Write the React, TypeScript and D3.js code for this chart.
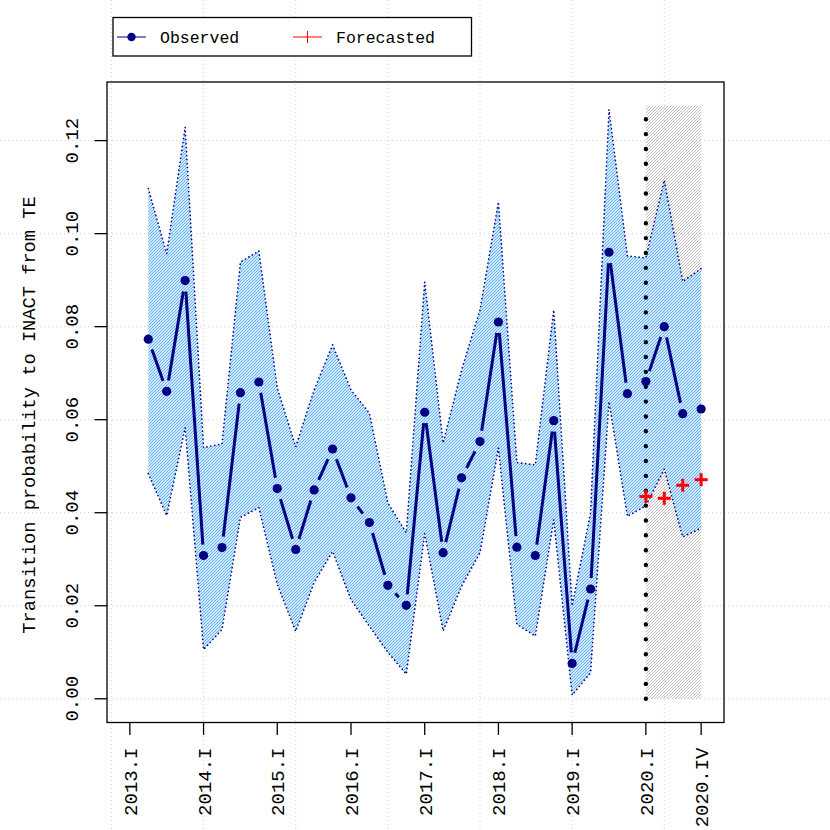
import React from "react";
import * as d3 from "d3";

const observedQuarters = [
  "2013.II", "2013.III", "2013.IV",
  "2014.I", "2014.II", "2014.III", "2014.IV",
  "2015.I", "2015.II", "2015.III", "2015.IV",
  "2016.I", "2016.II", "2016.III", "2016.IV",
  "2017.I", "2017.II", "2017.III", "2017.IV",
  "2018.I", "2018.II", "2018.III", "2018.IV",
  "2019.I", "2019.II", "2019.III", "2019.IV",
  "2020.I", "2020.II", "2020.III", "2020.IV",
];
const observedValues = [
  0.0773, 0.0661, 0.0899,
  0.0308, 0.0325, 0.0658, 0.0681,
  0.0452, 0.0321, 0.0449, 0.0537,
  0.0432, 0.0379, 0.0244, 0.0201,
  0.0616, 0.0314, 0.0475, 0.0553,
  0.081, 0.0326, 0.0308, 0.0598,
  0.0076, 0.0236, 0.096, 0.0656,
  0.0682, 0.08, 0.0613, 0.0623,
];
const upperValues = [
  0.1097, 0.0957, 0.1229,
  0.054, 0.0548, 0.0939, 0.0963,
  0.0668, 0.0542, 0.0664, 0.0761,
  0.0664, 0.0614, 0.0421, 0.0357,
  0.0896, 0.055, 0.0707, 0.0836,
  0.1068, 0.0508, 0.0503, 0.0836,
  0.02, 0.04, 0.1267, 0.0952,
  0.0948, 0.1115, 0.0897, 0.0925,
];
const lowerValues = [
  0.0484, 0.0394, 0.0583,
  0.0106, 0.0149, 0.039, 0.0411,
  0.0246, 0.0145, 0.025, 0.0317,
  0.0213, 0.0156, 0.01, 0.0053,
  0.0355, 0.0146, 0.0242, 0.0314,
  0.0539, 0.016, 0.0135, 0.0385,
  0.0008, 0.0056, 0.0639, 0.0392,
  0.0415, 0.0494, 0.0348, 0.0367,
];
const forecastQuarters = ["2020.I", "2020.II", "2020.III", "2020.IV"];
const forecastValues = [0.0435, 0.0431, 0.0459, 0.0471];

const xTickLabels = [
  "2013.I", "2014.I", "2015.I", "2016.I", "2017.I", "2018.I", "2019.I", "2020.I", "2020.IV",
];
const yTicks = [0, 0.02, 0.04, 0.06, 0.08, 0.1, 0.12];
const xGridIdx = [0, 5, 10, 15, 20, 25, 30];
const forecastTop = 0.1275;
const yLabel = "Transition probability to INACT from TE";
const legendLabels = ["Observed", "Forecasted"];

const ROMAN: Record<string, number> = { I: 0, II: 1, III: 2, IV: 3 };
function qIndex(label: string): number {
  const [y, q] = label.split(".");
  return (+y - 2013) * 4 + ROMAN[q] + 1;
}

const W = 830;
const H = 830;
const FONT = "'Liberation Mono', 'Courier New', monospace";

export default function App() {
  const x = d3.scaleLinear().domain([-0.24, 33.24]).range([107, 724]);
  const y = d3.scaleLinear().domain([-0.0051, 0.1326]).range([722.5, 82]);
  const left = 107, right = 724, top = 82, bottom = 722.5;

  const obs = observedQuarters.map((q, i) => ({
    x: x(qIndex(q)),
    y: y(observedValues[i]),
    lo: y(lowerValues[i]),
    hi: y(upperValues[i]),
  }));

  const band = d3
    .area<{ x: number; lo: number; hi: number }>()
    .x((d) => d.x)
    .y0((d) => d.lo)
    .y1((d) => d.hi);
  const upperLine = d3.line<{ x: number; hi: number }>().x((d) => d.x).y((d) => d.hi);
  const lowerLine = d3.line<{ x: number; lo: number }>().x((d) => d.x).y((d) => d.lo);

  // type="b" segments with gaps
  const gap = 11;
  const segs: { x1: number; y1: number; x2: number; y2: number }[] = [];
  for (let i = 0; i < obs.length - 1; i++) {
    const a = obs[i], b = obs[i + 1];
    const dx = b.x - a.x, dy = b.y - a.y;
    const len = Math.hypot(dx, dy);
    if (len > 2 * gap) {
      const ux = dx / len, uy = dy / len;
      segs.push({ x1: a.x + ux * gap, y1: a.y + uy * gap, x2: b.x - ux * gap, y2: b.y - uy * gap });
    }
  }

  const fx0 = x(qIndex(forecastQuarters[0]));
  const fx1 = x(qIndex(forecastQuarters[forecastQuarters.length - 1]));

  return (
    <svg width={W} height={H} style={{ position: "absolute", left: 0, top: 0, background: "#fff" }}>
      <defs>
        <pattern id="hatchBlue" width="3" height="3" patternUnits="userSpaceOnUse">
          <path d="M-1,1 l2,-2 M0,3 l3,-3 M2,4 l2,-2" stroke="#58acf8" strokeWidth="1.05" />
        </pattern>
        <pattern id="hatchGray" width="3" height="3" patternUnits="userSpaceOnUse">
          <path d="M-1,1 l2,-2 M0,3 l3,-3 M2,4 l2,-2" stroke="#bdbdbd" strokeWidth="1" />
        </pattern>
      </defs>
      <rect x={0} y={0} width={W} height={H} fill="#fff" />
      {/* grid spanning the whole figure */}
      <g stroke="#d3d3d3" strokeWidth={1} strokeDasharray="1 3">
        {yTicks.map((t) => (
          <line key={"h" + t} x1={0} x2={W} y1={y(t)} y2={y(t)} />
        ))}
        {xGridIdx.map((t) => (
          <line key={"v" + t} x1={x(t)} x2={x(t)} y1={0} y2={H} />
        ))}
      </g>

      {/* forecast region */}
      <rect
        x={fx0}
        y={y(forecastTop)}
        width={fx1 - fx0}
        height={y(0) - y(forecastTop)}
        fill="url(#hatchGray)"
      />

      {/* confidence band */}
      <path d={band(obs) || ""} fill="url(#hatchBlue)" />
      <path d={upperLine(obs) || ""} fill="none" stroke="#000080" strokeWidth={1.7} strokeLinecap="round" strokeDasharray="0 4" />
      <path d={lowerLine(obs) || ""} fill="none" stroke="#000080" strokeWidth={1.7} strokeLinecap="round" strokeDasharray="0 4" />

      {/* forecast start line */}
      <line
        x1={fx0}
        x2={fx0}
        y1={y(0)}
        y2={y(forecastTop) + 12}
        stroke="#000"
        strokeWidth={4.4}
        strokeLinecap="round"
        strokeDasharray="0 14.86"
      />

      {/* observed */}
      <g stroke="#000080" strokeWidth={3}>
        {segs.map((s, i) => (
          <line key={i} x1={s.x1} y1={s.y1} x2={s.x2} y2={s.y2} />
        ))}
      </g>
      <g fill="#000080">
        {obs.map((d, i) => (
          <circle key={i} cx={d.x} cy={d.y} r={4.6} />
        ))}
      </g>

      {/* forecasted */}
      <g stroke="#ff0000" strokeWidth={3}>
        {forecastQuarters.map((q, i) => {
          const cx = x(qIndex(q));
          const cy = y(forecastValues[i]);
          return (
            <g key={q}>
              <line x1={cx - 6.5} x2={cx + 6.5} y1={cy} y2={cy} />
              <line x1={cx} x2={cx} y1={cy - 6.5} y2={cy + 6.5} />
            </g>
          );
        })}
      </g>

      {/* box */}
      <rect x={left} y={top} width={right - left} height={bottom - top} fill="none" stroke="#000" strokeWidth={1.3} />

      {/* x axis */}
      <g>
        {xTickLabels.map((lab) => {
          const tx = x(qIndex(lab));
          return (
            <g key={lab}>
              <line x1={tx} x2={tx} y1={bottom} y2={bottom + 12.5} stroke="#000" strokeWidth={1.3} />
              <text
                transform={`translate(${tx + 7},${bottom + 25}) rotate(-90)`}
                textAnchor="end"
                fontFamily={FONT}
                fontSize={19}
                fill="#000"
              >
                {lab}
              </text>
            </g>
          );
        })}
      </g>

      {/* y axis */}
      <g>
        {yTicks.map((t) => (
          <g key={t}>
            <line x1={left - 12.5} x2={left} y1={y(t)} y2={y(t)} stroke="#000" strokeWidth={1.3} />
            <text
              transform={`translate(${left - 29},${y(t)}) rotate(-90)`}
              textAnchor="middle"
              fontFamily={FONT}
              fontSize={19}
              fill="#000"
            >
              {t.toFixed(2)}
            </text>
          </g>
        ))}
        <text
          transform={`translate(34.5,415) rotate(-90)`}
          textAnchor="middle"
          fontFamily={FONT}
          fontSize={18.7}
          fill="#000"
        >
          {yLabel}
        </text>
      </g>

      {/* legend */}
      <g>
        <rect x={113} y={17.5} width={358.5} height={38.5} fill="#fff" stroke="#000" strokeWidth={1.3} />
        <line x1={117} x2={146} y1={37} y2={37} stroke="#000080" strokeWidth={1} />
        <circle cx={131.5} cy={37} r={4.2} fill="#000080" />
        <text x={160} y={42.5} fontFamily={FONT} fontSize={16.5} fill="#000">
          {legendLabels[0]}
        </text>
        <line x1={293} x2={322} y1={37} y2={37} stroke="#ff0000" strokeWidth={1} />
        <line x1={307.5} x2={307.5} y1={31} y2={43} stroke="#ff0000" strokeWidth={1} />
        <text x={336} y={42.5} fontFamily={FONT} fontSize={16.5} fill="#000">
          {legendLabels[1]}
        </text>
      </g>
    </svg>
  );
}
